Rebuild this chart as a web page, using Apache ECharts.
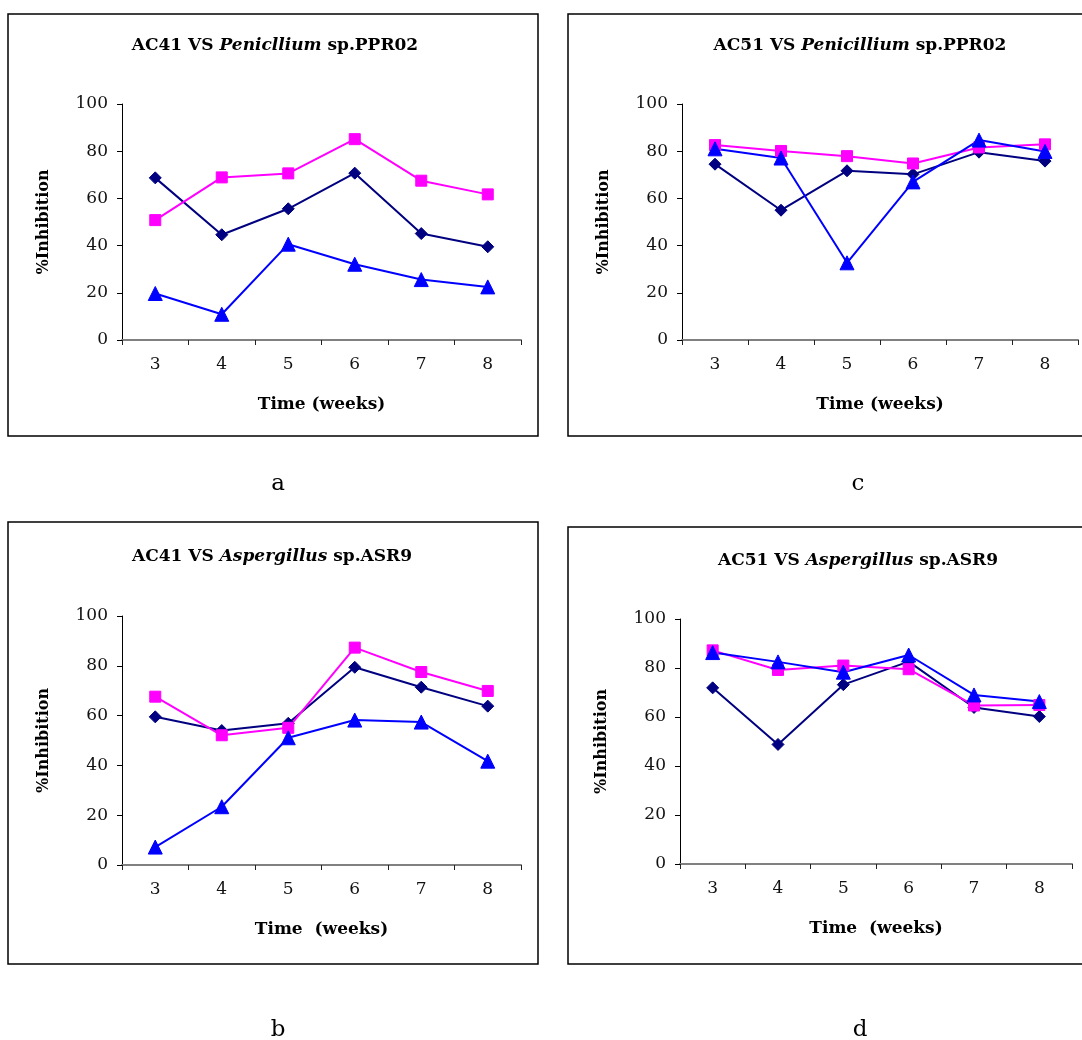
<!DOCTYPE html>
<html>
<head>
<meta charset="utf-8">
<script src="https://cdn.jsdelivr.net/npm/echarts@6/dist/echarts.min.js"></script>
<style>
html,body{margin:0;padding:0;background:#fff;}
#chart{width:1082px;height:1040px;}
</style>
</head>
<body>
<div id="chart"></div>
<script>
// ---- data ----
var weeks = ['3', '4', '5', '6', '7', '8'];
var yTicks = [0, 20, 40, 60, 80, 100];

// panel a: AC41 VS Penicllium sp.PPR02
var aNavy    = [68.7, 44.6, 55.6, 70.7, 45.1, 39.5];
var aMagenta = [50.8, 68.9, 70.6, 85.1, 67.5, 61.7];
var aBlue    = [19.7, 10.9, 40.6, 32.1, 25.6, 22.5];

// panel c: AC51 VS Penicillium sp.PPR02
var cNavy    = [74.5, 55.0, 71.7, 70.2, 79.6, 75.8];
var cMagenta = [82.6, 80.1, 77.9, 74.8, 81.6, 82.9];
var cBlue    = [81.0, 77.1, 32.7, 67.0, 84.7, 79.9];

// panel b: AC41 VS Aspergillus sp.ASR9
var bNavy    = [59.5, 54.0, 56.9, 79.4, 71.4, 63.8];
var bMagenta = [67.6, 52.1, 55.1, 87.3, 77.5, 69.9];
var bBlue    = [7.2, 23.4, 51.1, 58.2, 57.4, 41.7];

// panel d: AC51 VS Aspergillus sp.ASR9
var dNavy    = [71.9, 48.8, 73.2, 82.6, 63.9, 60.2];
var dMagenta = [87.2, 79.2, 81.0, 79.5, 64.7, 64.9];
var dBlue    = [86.3, 82.5, 78.3, 85.3, 69.0, 66.3];

var titleA = ['AC41 VS ', 'Penicllium', ' sp.PPR02'];
var titleC = ['AC51 VS ', 'Penicillium', ' sp.PPR02'];
var titleB = ['AC41 VS ', 'Aspergillus', ' sp.ASR9'];
var titleD = ['AC51 VS ', 'Aspergillus', ' sp.ASR9'];
var yName = '%Inhibition';
var xNameTop = 'Time (weeks)';
var xNameBottom = 'Time  (weeks)';
var panelLetters = ['a', 'c', 'b', 'd'];

// ---- layout ----
var FONT = 'DejaVu Serif';
var NAVY = '#000080', MAG = '#FF00FF', BLUE = '#0000FF';

var panels = [
  {grid: {left: 122, top: 104, width: 399, height: 236}, title: titleA, tx: 270, ty: 32, nav: aNavy, mag: aMagenta, blu: aBlue, xName: xNameTop, box: [8, 14, 530, 422], letter: [278, 484]},
  {grid: {left: 682, top: 104, width: 396, height: 236}, title: titleC, tx: 855, ty: 32, nav: cNavy, mag: cMagenta, blu: cBlue, xName: xNameTop, box: [568, 14, 530, 422], letter: [858, 484]},
  {grid: {left: 122, top: 616, width: 399, height: 249}, title: titleB, tx: 267, ty: 543, nav: bNavy, mag: bMagenta, blu: bBlue, xName: xNameBottom, box: [8, 522, 530, 442], letter: [278, 1030]},
  {grid: {left: 680, top: 619, width: 392, height: 245}, title: titleD, tx: 853, ty: 547, nav: dNavy, mag: dMagenta, blu: dBlue, xName: xNameBottom, box: [568, 527, 530, 437], letter: [860, 1030]}
];

var grids = [], xAxes = [], yAxes = [], series = [], titles = [], graphics = [];

panels.forEach(function (p, i) {
  grids.push(p.grid);
  xAxes.push({
    type: 'category', gridIndex: i, data: weeks, boundaryGap: true,
    axisLine: {lineStyle: {color: '#808080', width: 2}},
    axisTick: {show: true, alignWithLabel: false, length: 5, lineStyle: {color: '#222', width: 1}},
    axisLabel: {color: '#111', fontFamily: FONT, fontSize: 17, margin: 16},
    name: p.xName, nameLocation: 'middle', nameGap: 56,
    nameTextStyle: {color: '#000', fontFamily: FONT, fontSize: 17, fontWeight: 'bold'},
    splitLine: {show: false}
  });
  yAxes.push({
    type: 'value', gridIndex: i, min: yTicks[0], max: yTicks[yTicks.length - 1], interval: 20,
    axisLine: {show: true, lineStyle: {color: '#000', width: 1}},
    axisTick: {show: true, length: 5, lineStyle: {color: '#000'}},
    axisLabel: {color: '#111', fontFamily: FONT, fontSize: 17, margin: 14},
    splitLine: {show: false},
    name: yName, nameLocation: 'middle', nameGap: 70, nameRotate: 90,
    nameTextStyle: {color: '#000', fontFamily: FONT, fontSize: 16, fontWeight: 'bold'}
  });
  var defs = [
    {data: p.nav, color: NAVY, symbol: 'diamond', size: 12},
    {data: p.mag, color: MAG, symbol: 'rect', size: 11},
    {data: p.blu, color: BLUE, symbol: 'triangle', size: 14}
  ];
  defs.forEach(function (d) {
    series.push({
      type: 'line', xAxisIndex: i, yAxisIndex: i, data: d.data,
      symbol: d.symbol, symbolSize: d.size, showSymbol: true,
      lineStyle: {color: d.color, width: 2},
      itemStyle: {color: d.color, borderColor: d.color},
      animation: false, silent: true
    });
  });
  titles.push({
    text: '{b|' + p.title[0] + '}{i|' + p.title[1] + '}{b|' + p.title[2] + '}',
    left: p.tx, top: p.ty, textAlign: 'center',
    textStyle: {
      rich: {
        b: {fontFamily: FONT, fontSize: 17, fontWeight: 'bold', color: '#000'},
        i: {fontFamily: FONT, fontSize: 17, fontWeight: 'bold', fontStyle: 'italic', color: '#000'}
      }
    }
  });
  graphics.push({
    type: 'rect', shape: {x: p.box[0], y: p.box[1], width: p.box[2], height: p.box[3]},
    style: {fill: null, stroke: '#000', lineWidth: 1.5}, silent: true
  });
  graphics.push({
    type: 'text', x: p.letter[0], y: p.letter[1],
    style: {text: panelLetters[i], fontFamily: FONT, fontSize: 23, fill: '#000', textAlign: 'center', textVerticalAlign: 'middle'}
  });
});

var chart = echarts.init(document.getElementById('chart'), null, {renderer: 'canvas'});
chart.setOption({
  backgroundColor: '#fff',
  animation: false,
  title: titles,
  grid: grids,
  xAxis: xAxes,
  yAxis: yAxes,
  series: series,
  graphic: graphics
});
</script>
</body>
</html>
